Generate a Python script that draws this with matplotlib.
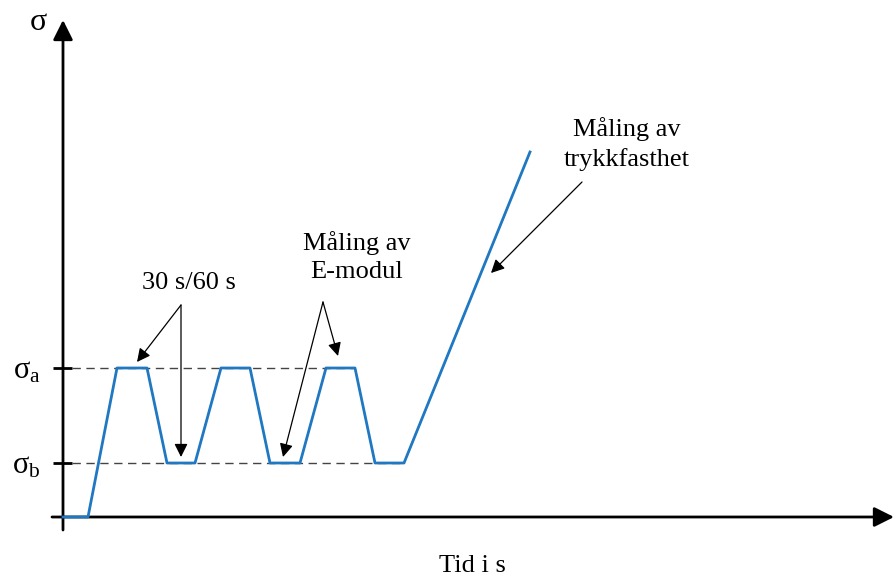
import matplotlib.pyplot as plt

plt.rcParams['font.family'] = ['Liberation Serif', 'DejaVu Serif']
plt.rcParams['mathtext.fontset'] = 'custom'
plt.rcParams['mathtext.rm'] = 'Liberation Serif'

# Load history: ramp up, three cycles between sigma_a and sigma_b, then loading to failure
t = [0, 25, 54, 84, 104, 132, 158, 187, 207, 237, 263, 292, 312, 341, 467]
sigma = [0, 0, 149, 149, 54, 54, 149, 149, 54, 54, 149, 149, 54, 54, 365]

sigma_a = 149
sigma_b = 54
level_labels = [r'$\mathrm{σ_a}$', r'$\mathrm{σ_b}$']
level_values = [sigma_a, sigma_b]
level_ends = [292, 341]

blue = '#1f78c1'

fig = plt.figure(figsize=(8.94, 5.78), dpi=100)
ax = fig.add_axes([0, 0, 1, 1])
ax.set_xlim(-63, 831)
ax.set_ylim(-61, 517)
ax.axis('off')

# Axes with arrow heads
ax.annotate('', xy=(0, 497), xytext=(0, -13),
            arrowprops=dict(arrowstyle='-|>', mutation_scale=30, lw=2.0, color='black',
                            shrinkA=0, shrinkB=0))
ax.annotate('', xy=(831, 0), xytext=(-11, 0),
            arrowprops=dict(arrowstyle='-|>', mutation_scale=30, lw=2.0, color='black',
                            shrinkA=0, shrinkB=0))

# Stress levels: ticks, dashed guide lines and labels
for lab, val, end in zip(level_labels, level_values, level_ends):
    ax.plot([-10, 9], [val, val], color='black', lw=2.0, solid_capstyle='butt')
    ax.plot([9, end], [val, val], color='#444444', lw=1.0, ls=(0, (6, 4)))
    ax.text(-22, val - 3, lab, ha='right', va='center', fontsize=22)

ax.plot(t, sigma, color=blue, lw=2.0, zorder=3)

ax.text(-25, 494, 'σ', ha='center', va='center', fontsize=23)
ax.text(409, -49, 'Tid i s', ha='center', va='center', fontsize=19)

ax.text(126, 234, '30 s/60 s', ha='center', va='center', fontsize=19)
ax.text(294, 260, 'Måling av\nE-modul', ha='center', va='center', fontsize=19,
        linespacing=1.38)
ax.text(564, 373, 'Måling av\ntrykkfasthet', ha='center', va='center', fontsize=19,
        linespacing=1.38)

arrow = dict(arrowstyle='-|>', mutation_scale=20, lw=0.9, color='black',
             shrinkA=0, shrinkB=0)
ax.annotate('', xy=(74, 155), xytext=(118, 212), arrowprops=arrow)
ax.annotate('', xy=(118, 60), xytext=(118, 212), arrowprops=arrow)
ax.annotate('', xy=(275, 161), xytext=(260, 215), arrowprops=arrow)
ax.annotate('', xy=(220, 60), xytext=(260, 215), arrowprops=arrow)
ax.annotate('', xy=(428, 244), xytext=(519, 335), arrowprops=arrow)

fig.savefig('out.png', dpi=100)
